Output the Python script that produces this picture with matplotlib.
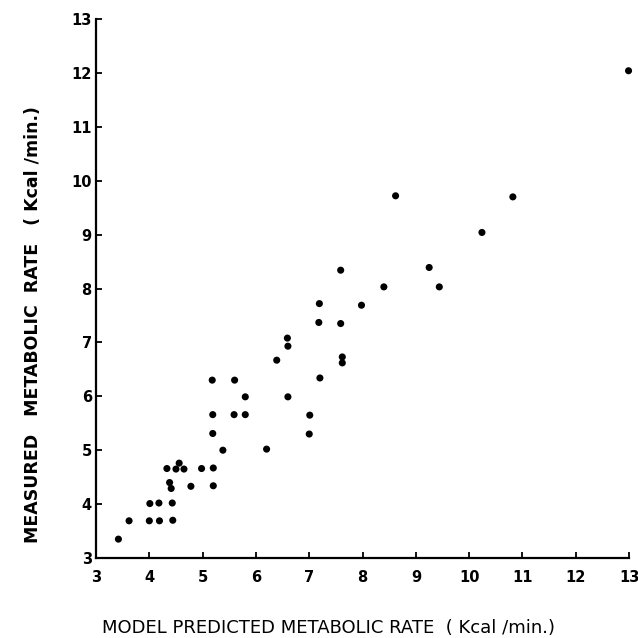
import matplotlib
matplotlib.use("Agg")
import matplotlib.pyplot as plt

# model predicted vs measured metabolic rate (Kcal/min)
predicted = [3.42, 3.62, 4.00, 4.19, 4.44, 4.01, 4.18, 4.43, 4.38, 4.41,
             4.78, 5.20, 4.33, 4.50, 4.65, 4.56, 4.98, 5.20, 5.38, 5.19,
             5.19, 5.59, 5.80, 5.80, 5.18, 5.60, 6.20, 6.60, 7.01, 7.00,
             7.20, 6.39, 6.59, 6.60, 7.62, 7.62, 7.18, 7.59, 7.19, 7.98,
             7.59, 8.40, 9.44, 9.25, 10.24, 8.62, 10.82, 12.99]
measured = [3.35, 3.69, 3.69, 3.69, 3.70, 4.01, 4.02, 4.02, 4.40, 4.29,
            4.33, 4.34, 4.66, 4.65, 4.65, 4.76, 4.66, 4.67, 5.00, 5.31,
            5.66, 5.66, 5.66, 5.99, 6.30, 6.30, 5.02, 5.99, 5.65, 5.30,
            6.34, 6.67, 7.08, 6.93, 6.73, 6.62, 7.37, 7.35, 7.72, 7.69,
            8.34, 8.03, 8.03, 8.39, 9.04, 9.72, 9.70, 12.04]
ticks = list(range(3, 14))

fig = plt.figure(figsize=(6.38, 6.38), dpi=100)
ax = fig.add_axes([0.1505, 0.1254, 0.8355, 0.8448])

ax.scatter(predicted, measured, s=26, color="black", edgecolors="none",
           clip_on=False, zorder=3)

ax.set_xlim(3, 13)
ax.set_ylim(3, 13)
ax.set_xticks(ticks)
ax.set_yticks(ticks)
ax.set_xticklabels([str(t) for t in ticks], fontweight="bold", fontsize=10.5)
ax.set_yticklabels([str(t) for t in ticks], fontweight="bold", fontsize=10.5)
ax.tick_params(axis="x", direction="in", length=4, width=1.3, pad=9)
ax.tick_params(axis="y", direction="in", length=4, width=1.3, pad=3)

for side in ["top", "right"]:
    ax.spines[side].set_visible(False)
for side in ["left", "bottom"]:
    ax.spines[side].set_linewidth(1.6)

fig.text(0.515, 1 - 628 / 638, "MODEL PREDICTED METABOLIC RATE  ( Kcal /min.)",
         ha="center", va="center", fontsize=13)
fig.text(33 / 638, 1 - 325 / 638, "MEASURED   METABOLIC  RATE   ( Kcal /min.)",
         ha="center", va="center", rotation=90, fontsize=12.5,
         fontweight="bold")

fig.savefig("out.png", dpi=100)
